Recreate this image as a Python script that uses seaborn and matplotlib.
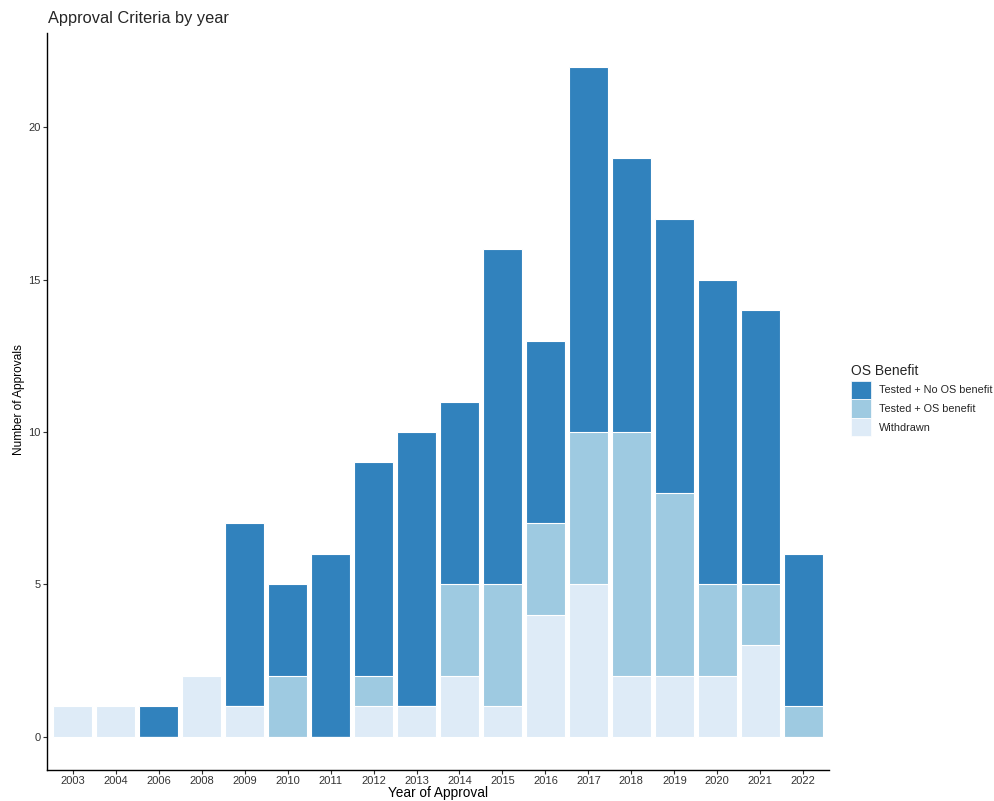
import matplotlib
matplotlib.use("Agg")
import matplotlib.pyplot as plt
import seaborn as sns
import pandas as pd
from matplotlib.patches import Patch

years = ["2003", "2004", "2006", "2008", "2009", "2010", "2011", "2012", "2013",
         "2014", "2015", "2016", "2017", "2018", "2019", "2020", "2021", "2022"]
withdrawn = [1, 1, 0, 2, 1, 0, 0, 1, 1, 2, 1, 4, 5, 2, 2, 2, 3, 0]
os_benefit = [0, 0, 0, 0, 0, 2, 0, 1, 0, 3, 4, 3, 5, 8, 6, 3, 2, 1]
no_os_benefit = [0, 0, 1, 0, 6, 3, 6, 7, 9, 6, 11, 6, 12, 9, 9, 10, 9, 5]

categories = ["Tested + No OS benefit", "Tested + OS benefit", "Withdrawn"]
colors = ["#3182BD", "#9ECAE1", "#DEEBF7"]

sns.set_style("white")
plt.rcParams["font.family"] = ["Liberation Sans", "DejaVu Sans"]

df = pd.DataFrame({"year": years, "Withdrawn": withdrawn,
                   "Tested + OS benefit": os_benefit,
                   "Tested + No OS benefit": no_os_benefit})

fig = plt.figure(figsize=(9.94, 8.01), dpi=100)
ax = fig.add_axes([0.0473, 0.0387, 0.7867, 0.9201])

# cumulative overlap stacking (bottom -> top: Withdrawn, OS benefit, No OS benefit)
tot3 = df["Withdrawn"] + df["Tested + OS benefit"] + df["Tested + No OS benefit"]
tot2 = df["Withdrawn"] + df["Tested + OS benefit"]
tot1 = df["Withdrawn"]
for tot, col in [(tot3, colors[0]), (tot2, colors[1]), (tot1, colors[2])]:
    sns.barplot(x=df["year"], y=tot, color=col, width=0.9, saturation=1,
                edgecolor="white", linewidth=0.8, ax=ax, order=years)

ax.set_xlim(-0.6, len(years) - 0.4)
ax.set_ylim(-1.1, 23.1)
ax.set_yticks([0, 5, 10, 15, 20])
ax.set_yticklabels(["0", "5", "10", "15", "20"])
for s in ["top", "right"]:
    ax.spines[s].set_visible(False)
for s in ["left", "bottom"]:
    ax.spines[s].set_color("black")
    ax.spines[s].set_linewidth(1.0)
ax.tick_params(axis="both", which="both", length=2.7, width=0.8, color="#333333",
               labelsize=8, labelcolor="#333333", left=True, bottom=True, pad=1.8)
ax.set_xlabel("Year of Approval", fontsize=9.8, color="black")
ax.xaxis.label.set_va("baseline")
ax.xaxis.set_label_coords(0.5, -0.0366)
ax.set_ylabel("Number of Approvals", fontsize=8.6, color="black")
ax.yaxis.label.set_va("center")
ax.yaxis.set_label_coords(-0.0358, 0.503)
fig.text(0.0483, 0.9713, "Approval Criteria by year", fontsize=11.8,
         ha="left", va="baseline")

handles = [Patch(facecolor=c, edgecolor="white", linewidth=0.5) for c in colors]
leg = fig.legend(handles, categories, title="OS Benefit", loc="upper left",
                 bbox_to_anchor=(0.852, 0.551), frameon=False, fontsize=7.8,
                 title_fontsize=10, handlelength=1.85, handleheight=2.2,
                 labelspacing=0.05, handletextpad=0.7, borderaxespad=0)
leg._legend_box.align = "left"
leg._legend_box.sep = 2

fig.savefig("out.png", dpi=100)
